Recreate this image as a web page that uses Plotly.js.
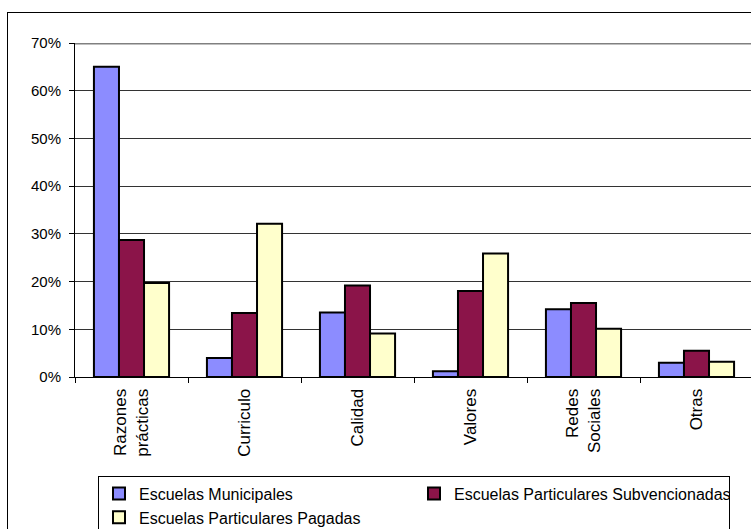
<!DOCTYPE html>
<html>
<head>
<meta charset="utf-8">
<script src="https://cdn.plot.ly/plotly-3.0.1.min.js"></script>
<style>
  html, body { margin: 0; padding: 0; overflow: hidden; background: #fff; }
  #wrap { position: relative; width: 751px; height: 529px; overflow: hidden; }
  #chart { position: absolute; left: 0; top: 0; width: 756px; height: 529px; }
  #frame { position: absolute; left: 7px; top: 12px; width: 760px; height: 530px;
           border: 1px solid #000; pointer-events: none; box-sizing: border-box; }
</style>
</head>
<body>
<div id="wrap">
  <div id="chart"></div>
  <div id="frame"></div>
</div>
<script>
const categories = ["Razones<br>prácticas", "Curriculo", "Calidad", "Valores", "Redes<br>Sociales", "Otras"];
const seriesNames = ["Escuelas Municipales", "Escuelas Particulares Subvencionadas", "Escuelas Particulares Pagadas"];
const municipales = [0.65, 0.04, 0.135, 0.012, 0.142, 0.03];
const subvencionadas = [0.287, 0.134, 0.192, 0.18, 0.155, 0.055];
const pagadas = [0.197, 0.321, 0.091, 0.259, 0.101, 0.032];
const yTickVals = [0, 0.1, 0.2, 0.3, 0.4, 0.5, 0.6, 0.7];
const yTickText = ["0%", "10%", "20%", "30%", "40%", "50%", "60%", "70%"];
const colors = ["#8c8cff", "#8b1449", "#ffffcc"];

const values = [municipales, subvencionadas, pagadas];
const traces = values.map((v, i) => ({
  type: "bar",
  name: seriesNames[i],
  x: categories,
  y: v,
  marker: { color: colors[i], line: { color: "#000", width: 2 } },
  hoverinfo: "skip"
}));

const fam = "Liberation Sans, Arial, sans-serif";

const layout = {
  width: 756, height: 529,
  margin: { l: 75, r: 3, t: 43, b: 152, autoexpand: false },
  paper_bgcolor: "rgba(0,0,0,0)",
  plot_bgcolor: "#fff",
  font: { family: fam, size: 15, color: "#000" },
  barmode: "group",
  bargap: 0.335,
  bargroupgap: 0,
  showlegend: true,
  xaxis: {
    type: "category",
    tickangle: -90,
    ticks: "outside", ticklen: 5, tickcolor: "#000", tickwidth: 1,
    tickson: "boundaries",
    ticklabelstandoff: 4,
    showline: true, linecolor: "#000", linewidth: 1,
    showgrid: false, zeroline: false,
    automargin: false,
    tickfont: { family: fam, size: 17, color: "#000" }
  },
  yaxis: {
    range: [0, 0.7],
    tickvals: yTickVals, ticktext: yTickText,
    ticks: "outside", ticklen: 5, tickcolor: "#000", tickwidth: 1,
    ticklabelstandoff: 5,
    showline: true, linecolor: "#000", linewidth: 1,
    showgrid: true, gridcolor: "#333", gridwidth: 1,
    zeroline: false,
    automargin: false,
    tickfont: { family: fam, size: 15, color: "#000" }
  },
  shapes: [{
    type: "line", xref: "paper", yref: "y",
    x0: 0, x1: 1, y0: 0.7, y1: 0.7,
    line: { color: "#808080", width: 3 }
  }],
  legend: {
    orientation: "h",
    xref: "container", yref: "container",
    x: 0.1296, xanchor: "left",
    y: 0.101, yanchor: "top",
    entrywidth: 270, entrywidthmode: "pixels",
    bgcolor: "#fff", bordercolor: "#000", borderwidth: 1,
    font: { family: fam, size: 16, color: "#000" },
    traceorder: "normal",
    tracegroupgap: 0
  }
};

Plotly.newPlot("chart", traces, layout, { displayModeBar: false, staticPlot: true });
</script>
</body>
</html>
